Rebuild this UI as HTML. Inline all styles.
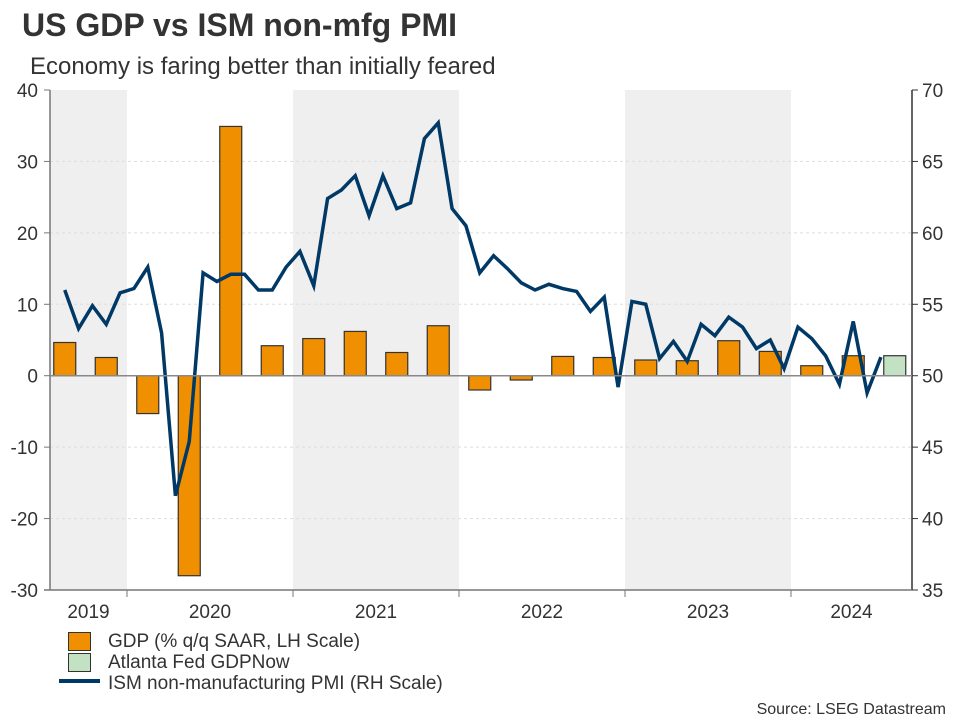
<!DOCTYPE html>
<html><head><meta charset="utf-8"><style>
body{margin:0;background:#fff;}
svg{display:block;font-family:"Liberation Sans",Arial,sans-serif;}
</style></head><body>
<svg id="c" width="960" height="720">
<text x="22" y="36" font-size="32" font-weight="bold" fill="#333">US GDP vs ISM non-mfg PMI</text>
<text x="30" y="74" font-size="24" fill="#333">Economy is faring better than initially feared</text>
<g id="shade"></g><g id="grid"></g><g id="bars"></g><g id="line"></g><g id="axes"></g>
<g>
<rect x="68.5" y="632.5" width="22" height="18" fill="#f09000" stroke="#333"/>
<text x="108" y="647" font-size="19" fill="#333">GDP (% q/q SAAR, LH Scale)</text>
<rect x="68.5" y="653.5" width="22" height="18" fill="#c3e1c3" stroke="#333"/>
<text x="108" y="668" font-size="19" fill="#333">Atlanta Fed GDPNow</text>
<line x1="59" y1="681" x2="100" y2="681" stroke="#003866" stroke-width="4"/>
<text x="108" y="689" font-size="19" fill="#333">ISM non-manufacturing PMI (RH Scale)</text>
</g>
<text x="946" y="714" font-size="16" fill="#333" text-anchor="end">Source: LSEG Datastream</text>
</svg>
<script>
const years=["2019","2020","2021","2022","2023","2024"];
const gdp=[4.65,2.55,-5.3,-28.0,34.9,4.2,5.2,6.2,3.25,7.0,-2.0,-0.6,2.7,2.55,2.2,2.1,4.9,3.4,1.4,2.8];
const gdpNow=[2.8];
const pmi=[56.0,53.3,54.9,53.6,55.8,56.1,57.6,53.0,41.6,45.4,57.2,56.6,57.1,57.1,56.0,56.0,57.6,58.7,56.3,62.4,63.0,64.0,61.2,64.0,61.7,62.1,66.6,67.7,61.7,60.5,57.2,58.4,57.5,56.5,56.0,56.4,56.1,55.9,54.5,55.5,49.2,55.2,55.0,51.2,52.4,51.0,53.6,52.8,54.1,53.4,51.9,52.5,50.5,53.4,52.6,51.4,49.4,53.8,48.8,51.3];
const leftTicks=[40,30,20,10,0,-10,-20,-30];
const rightTicks=[70,65,60,55,50,45,40,35];
const NS='http://www.w3.org/2000/svg';
const L=50,R=912,T=90,B=590,Q=41.5,X0=44;
const yL=v=>T+(40-v)/70*(B-T);
const yR=v=>T+(70-v)/35*(B-T);
const xQ=i=>X0+Q*(i+0.5);
const xM=i=>X0+Q/2+i*Q/3;
function mk(t,a,p){const e=document.createElementNS(NS,t);for(const k in a)e.setAttribute(k,a[k]);p.appendChild(e);return e;}
const g=id=>document.getElementById(id);
years.forEach((y,i)=>{
 const x1=Math.max(L,X0+Q*2+(i-1)*Q*4), x2=Math.min(R,X0+Q*2+i*Q*4);
 if(i%2===0){const r=mk('rect',{x:x1,y:T,width:x2-x1,height:B-T,fill:'#efefef'},g('shade'));
 
 }
 const t=mk('text',{x:(x1+x2)/2,y:618,'font-size':19,fill:'#333','text-anchor':'middle'},g('axes'));t.textContent=y;
 
 
 if(i>0){const tk=mk('line',{x1:x1,x2:x1,y1:B,y2:B+7,stroke:'#777'},g('axes'));
 
 }
});
leftTicks.forEach((v,i)=>{
 const y=yL(v);
 if(v!==0&&v!==-30&&v!==40){const gl=mk('line',{x1:L,x2:R,y1:y,y2:y,stroke:'#ddd','stroke-dasharray':'3,3'},g('grid'));
 
 }
 const t=mk('text',{x:38,y:y+7,'font-size':19,fill:'#333','text-anchor':'end'},g('axes'));t.textContent=v;
 
 
 const tk=mk('line',{x1:L-6,x2:L,y1:y,y2:y,stroke:'#777'},g('axes'));
 
 
});
rightTicks.forEach(v=>{
 const y=yR(v);
 const t=mk('text',{x:922,y:y+7,'font-size':19,fill:'#333'},g('axes'));t.textContent=v;
 
 
 const tk=mk('line',{x1:R,x2:R+6,y1:y,y2:y,stroke:'#333'},g('axes'));
 
 
});
const ax=[[L,T,L,B,'#777','y-left-axis'],[R,T,R,B,'#333','y-right-axis'],[L-6,B,R,B,'#777','x-axis'],[L,yL(0),R,yL(0),'#888','zero-line']];
ax.forEach(a=>{const e=mk('line',{x1:a[0],y1:a[1],x2:a[2],y2:a[3],stroke:a[4],'stroke-width':1.5},g('axes'));
 
 });
const bw=22;
gdp.forEach((v,i)=>{
 const y0=yL(0),y1=yL(v);
 const r=mk('rect',{x:xQ(i)-bw/2,y:Math.min(y0,y1),width:bw,height:Math.abs(y1-y0),fill:'#f09000',stroke:'#333','stroke-width':1.2},g('bars'));
 
 
});
gdpNow.forEach((v,j)=>{
 const i=gdp.length+j,y0=yL(0),y1=yL(v);
 const r=mk('rect',{x:xQ(i)-bw/2,y:Math.min(y0,y1),width:bw,height:Math.abs(y1-y0),fill:'#c3e1c3',stroke:'#333','stroke-width':1.2},g('bars'));
 
 
});
const p=mk('polyline',{points:pmi.map((v,i)=>xM(i)+','+yR(v)).join(' '),fill:'none',stroke:'#003866','stroke-width':3.5,'stroke-linejoin':'miter'},g('line'));


</script>
</body></html>
